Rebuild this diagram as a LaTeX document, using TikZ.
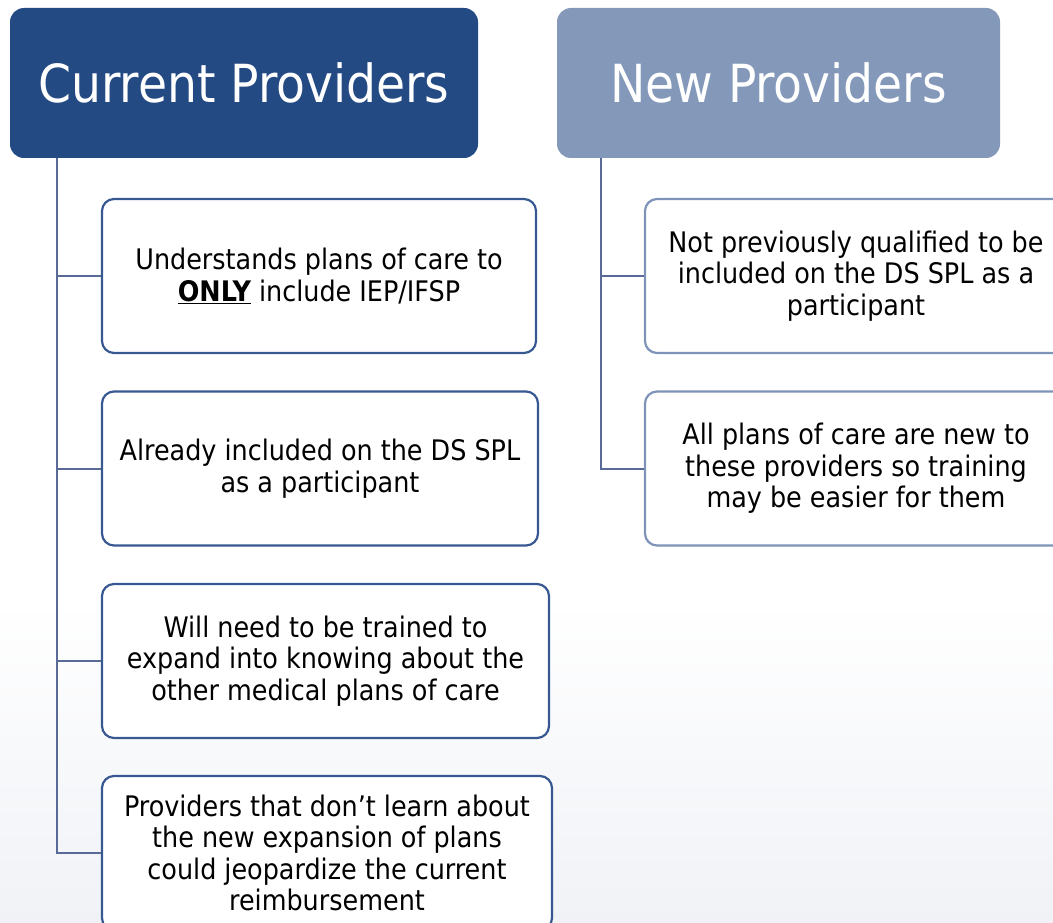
\documentclass[tikz,border=0pt]{standalone}
\usepackage{fontspec}
\setmainfont{DejaVuSansCondensed}[Extension=.ttf,BoldFont=DejaVuSansCondensed-Bold]
\usetikzlibrary{positioning}

\definecolor{curblue}{RGB}{36,74,132}
\definecolor{newblue}{RGB}{132,153,186}
\definecolor{curedge}{RGB}{56,88,146}
\definecolor{newedge}{RGB}{125,147,184}
\definecolor{linkgray}{RGB}{90,106,152}
\definecolor{bgfade}{RGB}{240,242,246}

\tikzset{
  head/.style={rectangle, rounded corners=14pt, minimum height=150pt,
               text=white, font=\fontsize{52.5}{60}\selectfont, inner sep=0pt},
  leaf/.style={rectangle, draw, line width=2.2pt, rounded corners=12pt,
               fill=white, align=center, minimum height=154pt, inner sep=0pt,
               font=\fontsize{28.3}{31.6}\selectfont},
  conn/.style={draw=linkgray, line width=2pt}
}

\begin{document}
\begin{tikzpicture}[x=1pt,y=-1pt]
\useasboundingbox (0,0) rectangle (1053,923);
\clip (0,0) rectangle (1053,923);
\fill[white] (0,0) rectangle (1053,600);
\shade[top color=white, bottom color=bgfade] (0,600) rectangle (1053,923);

% column heads
\node[head, fill=curblue, minimum width=468pt] (cur) at (244,83) {Current Providers};
\node[head, fill=newblue, minimum width=443pt] (new) at (778.5,83) {New Providers};

% current providers
\begin{scope}[every node/.style={leaf, draw=curedge}]
    \node[minimum width=434pt] (c1) at (319,276) {Understands plans of care to\\\textbf{\underline{ONLY}} include IEP/IFSP};
    \node[minimum width=436pt] (c2) at (320,468.5) {Already included on the DS SPL\\as a participant};
    \node[minimum width=447pt] (c3) at (325.5,661) {Will need to be trained to\\expand into knowing about the\\other medical plans of care};
    \node[minimum width=450pt] (c4) at (327,853) {Providers that don’t learn about\\the new expansion of plans\\could jeopardize the current\\reimbursement};
\end{scope}

% new providers
\begin{scope}[every node/.style={leaf, draw=newedge, minimum width=422pt}]
    \node (n1) at (856,276) {Not previously qualified to be\\included on the DS SPL as a\\participant};
    \node (n2) at (856,468.5) {All plans of care are new to\\these providers so training\\may be easier for them};
\end{scope}

\coordinate (ltop) at (57,158);
\coordinate (rtop) at (601,158);
\foreach \n in {c1,c2,c3,c4}
    \draw[conn] (ltop) |- (\n.west);
\foreach \n in {n1,n2}
    \draw[conn] (rtop) |- (\n.west);
\end{tikzpicture}
\end{document}
